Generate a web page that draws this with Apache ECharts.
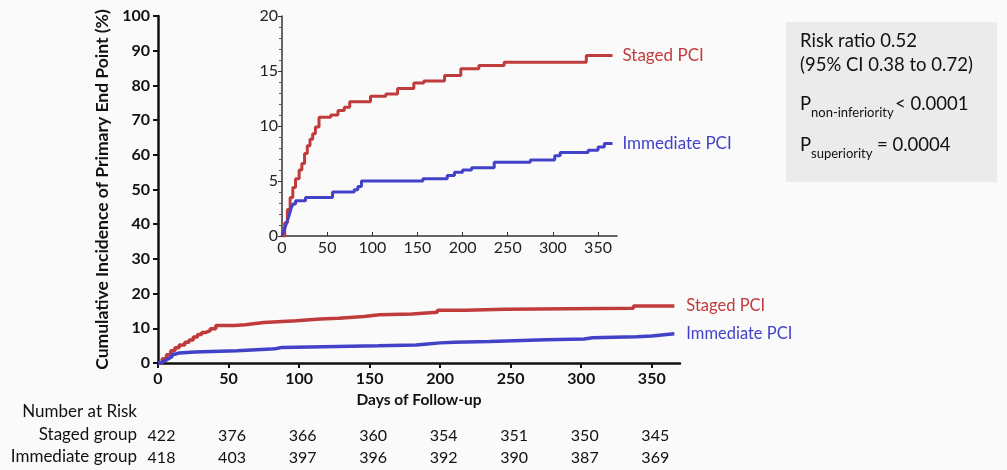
<!DOCTYPE html>
<html>
<head>
<meta charset="utf-8">
<script src="https://cdn.jsdelivr.net/npm/echarts@6/dist/echarts.min.js"></script>
<style>
  html, body { margin: 0; padding: 0; background: #fafafa; }
  #chart { width: 1007px; height: 470px; }
</style>
</head>
<body>
<div id="chart"></div>
<script>
// 累积发生率曲线 (KM 风格阶梯线) + 放大插图
var stagedDays = [0, 3, 6, 9, 12, 15, 19, 22, 25, 28, 31, 34, 37, 41, 54, 62, 69, 75, 98, 115, 128, 146, 157, 180, 198, 218, 246, 337, 366];
var stagedPct  = [0, 1.2, 2.4, 3.5, 4.4, 5.2, 6.0, 6.6, 7.5, 8.2, 8.8, 9.3, 9.9, 10.8, 11.0, 11.4, 11.7, 12.2, 12.7, 12.9, 13.4, 13.9, 14.1, 14.6, 15.2, 15.5, 15.8, 16.4, 16.4];

var immediateDays = [0, 2, 4, 6, 8, 10, 12, 15, 26, 56, 80, 84, 88, 156, 183, 191, 200, 210, 235, 275, 302, 308, 339, 350, 357, 366];
var immediatePct  = [0, 0.5, 0.9, 1.4, 1.9, 2.5, 2.9, 3.2, 3.5, 4.0, 4.2, 4.5, 5.0, 5.2, 5.5, 5.8, 6.0, 6.2, 6.7, 6.9, 7.3, 7.6, 7.8, 8.1, 8.4, 8.4];

// 风险人数
var riskTicks = [0, 50, 100, 150, 200, 250, 300, 350];
var stagedRisk = [422, 376, 366, 360, 354, 351, 350, 345];
var immediateRisk = [418, 403, 397, 396, 392, 390, 387, 369];

var seriesNames = ['Staged PCI', 'Immediate PCI'];
var red = '#c03b3b';
var blue = '#4242c8';

function pairs(xs, ys) {
  return xs.map(function (x, i) { return [x, ys[i]]; });
}
var stagedData = pairs(stagedDays, stagedPct);
var immediateData = pairs(immediateDays, immediatePct);

var FONT = 'Lato';
var myChart = echarts.init(document.getElementById('chart'));

function riskAxis(values, offset) {
  return {
    type: 'value', gridIndex: 0, position: 'bottom', min: 0, max: 370, offset: offset,
    axisLine: { show: false }, axisTick: { show: false }, splitLine: { show: false },
    axisLabel: {
      customValues: riskTicks, margin: 0, padding: [0, 0, 0, 7],
      fontFamily: FONT, fontSize: 16, color: '#111',
      formatter: function (v) { return values[riskTicks.indexOf(v)]; }
    }
  };
}

function stepLine(name, data, color, xi, width, fontSize, dist) {
  return {
    name: name, type: 'line', step: 'end', xAxisIndex: xi, yAxisIndex: xi === 0 ? 0 : 1,
    data: data, symbol: 'none', silent: true,
    lineStyle: { color: color, width: width },
    endLabel: {
      show: true, formatter: name, distance: dist,
      color: color, fontFamily: FONT, fontSize: fontSize
    }
  };
}

var option = {
  backgroundColor: '#fafafa',
  animation: false,
  grid: [
    { left: 158, top: 16, width: 522, height: 347 },
    { left: 282, top: 16, width: 335, height: 220 }
  ],
  xAxis: [
    {
      type: 'value', gridIndex: 0, min: 0, max: 370,
      name: 'Days of Follow-up', nameLocation: 'middle', nameGap: 25,
      nameTextStyle: { fontFamily: FONT, fontSize: 15.5, fontWeight: 'bold', color: '#111' },
      axisLine: { lineStyle: { color: '#111', width: 2.5 } },
      axisTick: { customValues: riskTicks, length: 5, lineStyle: { color: '#111', width: 2 } },
      axisLabel: { customValues: riskTicks, margin: 8, fontFamily: FONT, fontSize: 16, fontWeight: 'bold', color: '#111' },
      splitLine: { show: false }
    },
    {
      type: 'value', gridIndex: 1, min: 0, max: 371,
      axisLine: { lineStyle: { color: '#333', width: 1.5 } },
      axisTick: { customValues: riskTicks, length: 4, inside: true, lineStyle: { color: '#333' } },
      axisLabel: { customValues: riskTicks, margin: 4, fontFamily: FONT, fontSize: 16, color: '#222' },
      splitLine: { show: false }
    },
    riskAxis(stagedRisk, 65),
    riskAxis(immediateRisk, 87)
  ],
  yAxis: [
    {
      type: 'value', gridIndex: 0, min: 0, max: 100, interval: 10,
      name: 'Cumulative Incidence of Primary End Point (%)', nameLocation: 'middle', nameGap: 47,
      nameTextStyle: { fontFamily: FONT, fontSize: 17.5, fontWeight: 'bold', color: '#111' },
      axisLine: { show: true, lineStyle: { color: '#111', width: 2.5 } },
      axisTick: { show: true, length: 5, lineStyle: { color: '#111', width: 2 } },
      axisLabel: { margin: 8, fontFamily: FONT, fontSize: 16, fontWeight: 'bold', color: '#111' },
      splitLine: { show: false }
    },
    {
      type: 'value', gridIndex: 1, min: 0, max: 20, interval: 5,
      axisLine: { show: true, lineStyle: { color: '#333', width: 1.5 } },
      axisTick: { show: true, length: 4, lineStyle: { color: '#333' } },
      minorTick: { show: true, splitNumber: 5, length: 3, lineStyle: { color: '#555' } },
      axisLabel: { margin: 4, fontFamily: FONT, fontSize: 16, color: '#222' },
      splitLine: { show: false }
    }
  ],
  series: [
    stepLine(seriesNames[0], stagedData, red, 0, 3.5, 16.5, 12),
    stepLine(seriesNames[1], immediateData, blue, 0, 3.5, 16.5, 12),
    stepLine(seriesNames[0], stagedData, red, 1, 3, 17, 10),
    stepLine(seriesNames[1], immediateData, blue, 1, 3, 17, 10)
  ],
  graphic: [
    { type: 'rect', left: 786, top: 22, shape: { width: 211, height: 160 }, style: { fill: '#ebebeb' } },
    { type: 'text', left: 800, top: 32, style: { text: 'Risk ratio 0.52', font: '18.5px Lato', fill: '#111' } },
    { type: 'text', left: 800, top: 56, style: { text: '(95% CI 0.38 to 0.72)', font: '18.5px Lato', fill: '#111' } },
    { type: 'text', left: 800, top: 95, style: { text: 'P', font: '18.5px Lato', fill: '#111' } },
    { type: 'text', left: 811, top: 106, style: { text: 'non-inferiority', font: '13px Lato', fill: '#111' } },
    { type: 'text', left: 895, top: 95, style: { text: '< 0.0001', font: '18.5px Lato', fill: '#111' } },
    { type: 'text', left: 800, top: 136, style: { text: 'P', font: '18.5px Lato', fill: '#111' } },
    { type: 'text', left: 811, top: 147, style: { text: 'superiority', font: '13px Lato', fill: '#111' } },
    { type: 'text', left: 877, top: 136, style: { text: '= 0.0004', font: '18.5px Lato', fill: '#111' } },
    { type: 'text', right: 870, top: 403, style: { text: 'Number at Risk', font: '17px Lato', fill: '#111' } },
    { type: 'text', right: 870, top: 426, style: { text: 'Staged group', font: '17px Lato', fill: '#111' } },
    { type: 'text', right: 870, top: 448, style: { text: 'Immediate group', font: '17px Lato', fill: '#111' } }
  ]
};
myChart.setOption(option, true);
</script>
</body>
</html>
